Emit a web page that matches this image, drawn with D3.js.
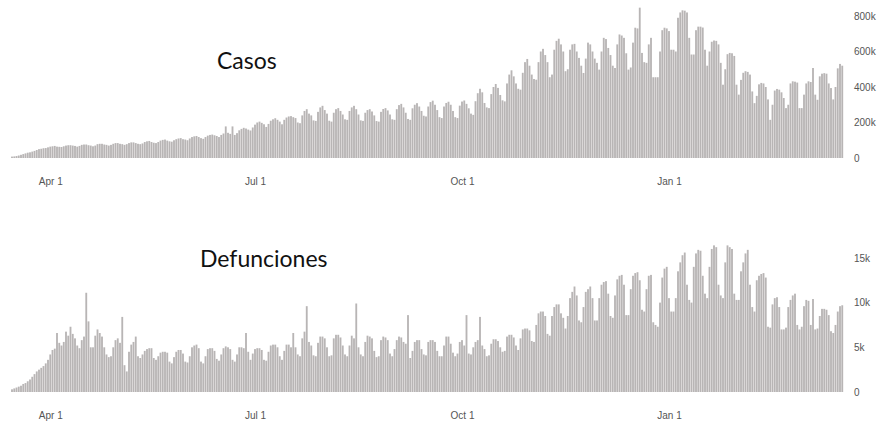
<!DOCTYPE html>
<html lang="es">
<head>
<meta charset="UTF-8" />
<title>Casos y defunciones diarias</title>
<script src="https://d3js.org/d3.v7.min.js"></script>
<style>
  body { margin: 0; background: #fff; }
  svg { display: block; }
  .titulo { font-family: Lato, 'Open Sans', sans-serif; font-size: 23px; fill: #111; }
  .eje text { font-family: 'Liberation Sans', Arial, sans-serif; font-size: 10px; fill: #555; }
  .eje path, .eje line { display: none; }
</style>
</head>
<body>
<svg id="chart" width="895" height="424"></svg>
<script>
// daily values, one week per line (first day: Sun 15 Mar 2020)
const fechaInicio = Date.UTC(2020, 2, 15);

// casos diarios, en miles
const casos = [
  8, 9, 11, 14, 18, 22, 26,
  30, 32, 36, 40, 45, 50, 52,
  55, 56, 60, 64, 66, 68, 64,
  63, 62, 66, 70, 72, 72, 70,
  68, 64, 68, 74, 76, 76, 72,
  70, 66, 70, 78, 80, 80, 76,
  74, 70, 74, 80, 84, 84, 80,
  78, 74, 78, 84, 88, 88, 84,
  80, 78, 82, 90, 94, 96, 90,
  86, 84, 90, 98, 102, 104, 98,
  94, 92, 100, 106, 110, 112, 106,
  104, 100, 110, 118, 122, 124, 118,
  112, 108, 118, 126, 130, 132, 128,
  124, 118, 130, 138, 178, 142, 136,
  178, 130, 140, 156, 164, 170, 166,
  160, 155, 172, 188, 200, 205, 198,
  190, 175, 192, 210, 218, 224, 215,
  205, 190, 215, 228, 234, 236, 230,
  225, 200, 196, 240, 265, 275, 250,
  240, 212, 209, 260, 285, 294, 270,
  250, 210, 205, 255, 275, 281, 265,
  245, 218, 215, 265, 285, 294, 275,
  245, 212, 209, 255, 270, 275, 262,
  240, 208, 205, 260, 276, 281, 268,
  245, 218, 215, 275, 298, 305, 285,
  255, 220, 215, 280, 300, 309, 290,
  265, 238, 234, 290, 315, 323, 300,
  270, 230, 225, 290, 310, 317, 300,
  265, 230, 225, 295, 318, 324, 305,
  280, 250, 243, 320, 365, 390, 370,
  310, 285, 281, 360, 400, 417, 395,
  355, 325, 319, 420, 470, 494, 460,
  420, 390, 385, 480, 540, 558, 520,
  470, 445, 441, 540, 600, 615, 580,
  540, 455, 470, 610, 660, 672, 640,
  600, 489, 500, 610, 640, 643, 600,
  564, 520, 479, 560, 650, 640, 600,
  560, 536, 498, 600, 677, 670, 620,
  580, 520, 507, 640, 696, 690, 677,
  590, 498, 510, 650, 734, 730, 847,
  592, 540, 536, 640, 677, 455, 455,
  455, 600, 720, 734, 730, 715, 610,
  610, 600, 790, 820, 832, 830, 820,
  677, 583, 583, 720, 740, 740, 735,
  610, 520, 600, 655, 662, 660, 640,
  536, 413, 500, 585, 592, 590, 575,
  413, 357, 440, 480, 489, 485, 470,
  375, 309, 350, 415, 423, 420, 400,
  330, 215, 300, 380, 389, 385, 370,
  338, 281, 300, 420, 432, 430, 425,
  281, 281, 357, 420, 432, 428, 507,
  357, 328, 460, 475, 478, 475, 420,
  394, 330, 400, 505, 530, 520
];

// defunciones diarias, en miles
const defunciones = [
  0.3, 0.4, 0.5, 0.6, 0.7, 0.9, 1.0,
  1.2, 1.4, 1.7, 2.0, 2.3, 2.5, 2.7,
  2.9, 3.2, 3.6, 4.2, 4.7, 4.85, 6.6,
  5.5, 5.2, 5.6, 6.75, 6.3, 7.3, 6.5,
  6.0, 5.2, 4.9, 5.8, 6.2, 11.1, 7.9,
  5.0, 5.0, 6.3, 7.0, 6.6, 6.2, 5.0,
  4.2, 3.9, 4.0, 5.0, 5.8, 6.0, 5.5,
  8.4, 3.0, 2.3, 4.5, 5.3, 5.6, 6.2,
  4.0, 3.8, 4.2, 4.6, 4.8, 4.9, 4.9,
  3.8, 3.6, 4.0, 4.4, 4.5, 4.5, 4.4,
  3.4, 3.2, 3.9, 4.5, 4.7, 4.7, 4.3,
  3.4, 3.3, 4.0, 5.0, 5.2, 5.3, 4.9,
  3.4, 3.2, 4.0, 4.8, 4.9, 4.9, 4.6,
  3.7, 3.5, 4.2, 4.9, 5.1, 5.0, 4.8,
  3.6, 3.4, 4.2, 5.0, 5.0, 4.9, 6.6,
  4.5, 3.6, 4.3, 4.8, 4.9, 4.9, 4.7,
  3.6, 3.5, 4.5, 5.2, 5.3, 5.3, 5.0,
  4.0, 3.6, 4.6, 5.3, 5.3, 5.0, 6.6,
  5.0, 4.2, 4.0, 6.0, 6.75, 9.6, 5.6,
  5.2, 4.1, 4.0, 5.5, 6.2, 6.2, 6.0,
  5.0, 4.0, 4.1, 6.0, 6.4, 6.4, 6.1,
  5.2, 4.2, 4.0, 5.2, 6.3, 6.0, 9.9,
  5.0, 4.2, 4.0, 5.6, 6.3, 6.2, 6.0,
  4.6, 3.9, 4.0, 5.8, 6.2, 6.1, 5.8,
  4.3, 4.0, 4.8, 5.8, 6.2, 6.1, 5.6,
  5.4, 8.6, 3.8, 4.6, 5.6, 5.8, 5.8,
  4.8, 4.2, 4.1, 5.6, 5.8, 5.8, 5.6,
  4.6, 4.0, 4.0, 5.2, 6.2, 6.2, 5.4,
  4.4, 4.0, 4.3, 5.6, 5.8, 5.2, 8.6,
  4.3, 4.2, 5.0, 5.6, 5.8, 8.4, 5.2,
  4.8, 4.0, 4.1, 5.4, 5.9, 5.9, 5.7,
  5.0, 4.5, 4.6, 6.2, 6.4, 6.4, 6.1,
  5.2, 4.7, 6.0, 7.0, 7.1, 7.1, 6.9,
  5.7, 5.6, 7.5, 8.8, 9.0, 9.0, 8.5,
  6.5, 6.3, 8.5, 9.5, 9.8, 9.8, 8.8,
  8.3, 7.1, 8.5, 10.5, 11.2, 11.8, 10.8,
  8.0, 7.8, 9.5, 11.2, 11.5, 11.8, 10.5,
  8.0, 8.0, 10.5, 12.0, 12.3, 12.4, 11.0,
  8.5, 8.3, 10.8, 12.6, 13.0, 13.1, 12.0,
  8.6, 8.6, 11.5, 13.0, 13.3, 13.4, 12.5,
  9.2, 9.0, 11.5, 13.0, 13.1, 7.8, 7.5,
  7.3, 10.0, 12.8, 13.8, 14.0, 10.5, 9.0,
  9.0, 10.5, 13.5, 14.5, 15.3, 15.6, 12.0,
  10.3, 10.0, 14.0, 15.5, 15.9, 15.8, 13.0,
  11.0, 10.5, 14.0, 16.0, 16.4, 16.2, 12.0,
  10.8, 10.5, 14.5, 16.4, 16.2, 16.0, 11.0,
  10.3, 10.3, 13.5, 14.5, 15.5, 15.9, 12.0,
  9.5, 9.0, 12.5, 13.0, 13.2, 13.3, 12.8,
  7.3, 7.2, 9.8, 10.5, 10.6, 9.5, 7.0,
  7.0, 7.2, 9.5, 10.3, 10.8, 11.0, 7.5,
  7.0, 7.3, 9.6, 10.3, 10.2, 7.5, 10.4,
  7.0, 7.1, 8.5, 9.3, 9.3, 9.2, 8.6,
  6.8, 6.6, 7.5, 9.0, 9.6, 9.7
];

const fechasMarca = ['2020-04-01', '2020-07-01', '2020-10-01', '2021-01-01'];
const etiquetasMarca = ['Apr 1', 'Jul 1', 'Oct 1', 'Jan 1'];
const ticksCasos = [0, 200, 400, 600, 800];
const ticksDefunciones = [0, 5, 10, 15];

const fechas = casos.map((_, i) => d3.utcDay.offset(new Date(fechaInicio), i));

const svg = d3.select('#chart');

const x = d3.scaleUtc()
  .domain([fechas[0], fechas[fechas.length - 1]])
  .range([12, 842.25]);

const anchoBarra = 1.85;
const colorBarra = '#b8b5b5';

function panel(valores, maxY, base, alto, ticks, titulo, tituloX, tituloY) {
  const y = d3.scaleLinear().domain([0, maxY]).range([base, base - alto]);

  svg.append('text')
    .attr('class', 'titulo')
    .attr('x', tituloX)
    .attr('y', tituloY)
    .text(titulo);

  svg.append('g')
    .selectAll('rect')
    .data(valores)
    .join('rect')
    .attr('x', (d, i) => x(fechas[i]) - anchoBarra / 2)
    .attr('y', d => y(d))
    .attr('width', anchoBarra)
    .attr('height', d => base - y(d))
    .attr('fill', colorBarra);

  // eje x con fechas
  svg.append('g')
    .attr('class', 'eje')
    .attr('transform', `translate(0, ${base})`)
    .call(d3.axisBottom(x)
      .tickValues(fechasMarca.map(f => new Date(f + 'T00:00:00Z')))
      .tickFormat((d, i) => etiquetasMarca[i])
      .tickSize(0)
      .tickPadding(20));

  // eje y a la derecha
  svg.append('g')
    .attr('class', 'eje')
    .attr('transform', 'translate(854, 0)')
    .call(d3.axisRight(y)
      .tickValues(ticks)
      .tickFormat(d => d === 0 ? '0' : d + 'k')
      .tickSize(0)
      .tickPadding(0));
}

panel(casos, 800, 158, 142, ticksCasos, 'Casos', 217, 69);
panel(defunciones, 15, 392, 134.1, ticksDefunciones, 'Defunciones', 200, 267);
</script>
</body>
</html>
